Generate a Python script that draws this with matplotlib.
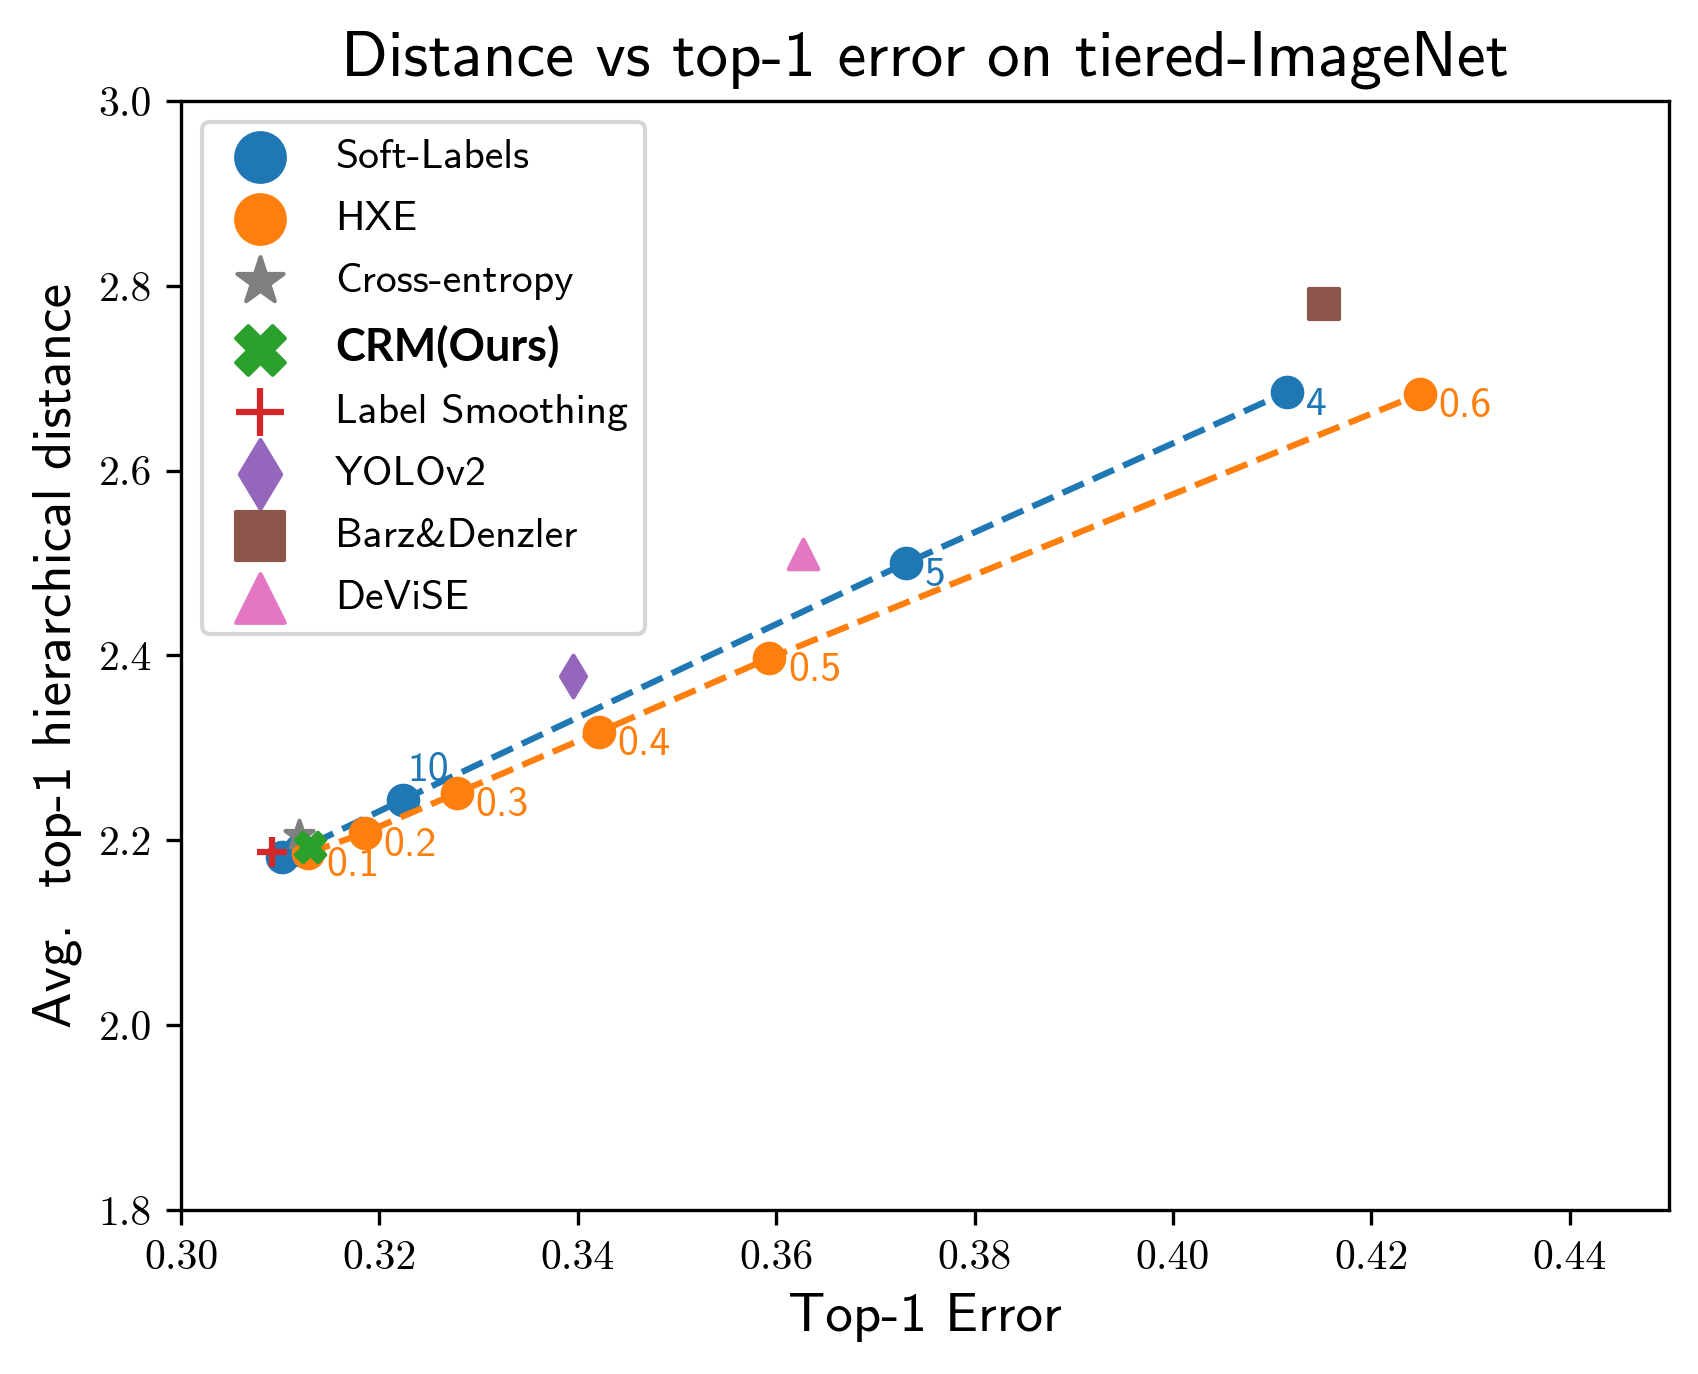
import matplotlib
matplotlib.use("Agg")
import matplotlib.pyplot as plt

plt.rcParams['font.family'] = ['cmss10', 'DejaVu Sans']
plt.rcParams['axes.formatter.use_mathtext'] = True

# Soft-Labels (beta), sorted by error
sl_err = [0.3102, 0.3120, 0.3224, 0.3731, 0.4115]
sl_dist = [2.182, 2.190, 2.244, 2.500, 2.685]
sl_tags = ['', '', '10', '5', '4']

# HXE (alpha)
hxe_err = [0.3128, 0.3185, 0.3278, 0.3421, 0.3593, 0.4249]
hxe_dist = [2.186, 2.208, 2.251, 2.317, 2.397, 2.683]
hxe_tags = ['0.1', '0.2', '0.3', '0.4', '0.5', '0.6']

# single-point methods
ce_err, ce_dist = 0.3119, 2.206
crm_err, crm_dist = 0.3130, 2.193
ls_err, ls_dist = 0.3092, 2.187
yolo_err, yolo_dist = 0.3395, 2.378
barz_err, barz_dist = 0.4152, 2.780
devise_err, devise_dist = 0.3627, 2.510

xticks = [0.30, 0.32, 0.34, 0.36, 0.38, 0.40, 0.42, 0.44]
yticks = [1.8, 2.0, 2.2, 2.4, 2.6, 2.8, 3.0]

fig = plt.figure(figsize=(5.66, 4.58), dpi=300)
ax = fig.add_axes([0.1066, 0.1194, 0.8763, 0.8071])

S = 50
ax.plot(sl_err, sl_dist, '--', color='tab:blue', lw=1.5, zorder=1)
ax.scatter(sl_err, sl_dist, s=S, color='tab:blue', marker='o', label='Soft-Labels', zorder=1)
ax.plot(hxe_err, hxe_dist, '--', color='tab:orange', lw=1.5, zorder=1)
ax.scatter(hxe_err, hxe_dist, s=S, color='tab:orange', marker='o', label='HXE', zorder=1)
ax.scatter([ce_err], [ce_dist], s=S, color='tab:gray', marker='*', label='Cross-entropy', zorder=1)
ax.scatter([crm_err], [crm_dist], s=S, color='tab:green', marker='X', label='CRM(Ours)', zorder=1)
ax.scatter([ls_err], [ls_dist], s=S, color='tab:red', marker='+', label='Label Smoothing', zorder=1)
ax.scatter([yolo_err], [yolo_dist], s=S, color='tab:purple', marker='d', label='YOLOv2', zorder=1)
ax.scatter([barz_err], [barz_dist], s=S, color='tab:brown', marker='s', label='Barz&Denzler', zorder=1)
ax.scatter([devise_err], [devise_dist], s=S, color='tab:pink', marker='^', label='DeViSE', zorder=1)

for x, y, t in zip(sl_err, sl_dist, sl_tags):
    if not t:
        continue
    off = (1, 4.5) if t == '10' else (4.5, -5.5)
    ax.annotate(t, (x, y), xytext=off, textcoords='offset points',
                color='tab:blue', fontsize=10, ha='left', va='baseline')
for x, y, t in zip(hxe_err, hxe_dist, hxe_tags):
    ax.annotate(t, (x, y), xytext=(4.5, -5.5), textcoords='offset points',
                color='tab:orange', fontsize=10, ha='left', va='baseline')

ax.set_xlim(0.30, 0.45)
ax.set_ylim(1.8, 3.0)
ax.set_xticks(xticks, labels=['%.2f' % v for v in xticks], fontfamily='cmr10', fontsize=10)
ax.set_yticks(yticks, labels=['%.1f' % v for v in yticks], fontfamily='cmr10', fontsize=10)
ax.tick_params(length=3.5)

ax.set_xlabel('Top-1 Error', fontsize=13.2)
ax.set_ylabel('Avg.  top-1 hierarchical distance', fontsize=13.2)
ax.set_title('Distance vs top-1 error on tiered-ImageNet', fontsize=15.6)

leg = ax.legend(loc='upper left', fontsize=10, markerscale=1.65,
                labelspacing=0.6, borderpad=0.4)
for txt in leg.get_texts():
    if txt.get_text() == 'CRM(Ours)':
        txt.set_fontfamily('Lato')
        txt.set_fontweight('bold')
        txt.set_fontsize(10.8)

fig.savefig('out.png', dpi=300)
